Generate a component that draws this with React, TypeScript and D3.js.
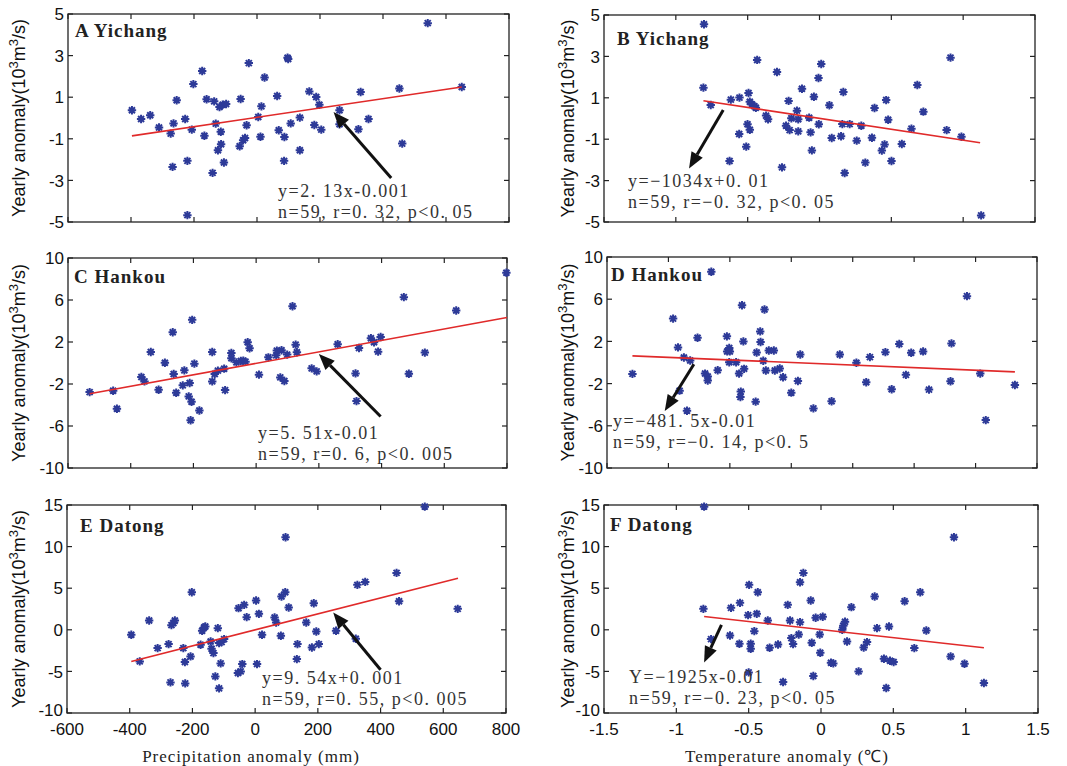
import React from "react";
import * as d3 from "d3";

// ---------- DATA ----------
const precipTicks = [-600, -400, -200, 0, 200, 400, 600, 800];
const tempTicks = [-1.5, -1, -0.5, 0, 0.5, 1, 1.5];
const tempTicksD = [-1.5, -1, -0.5, 0, 0.5, 1, 1.5, 2];
const yTicksYichang = [-5, -3, -1, 1, 3, 5];
const yTicksHankou = [-10, -6, -2, 2, 6, 10];
const yTicksDatong = [-10, -5, 0, 5, 10, 15];

// A: Yichang vs precipitation anomaly (mm, 10^3 m3/s)
const pointsA: [number, number][] = [
  [-397, 0.37], [-368, -0.05], [-339, 0.13], [-311, -0.46], [-274, -0.75], [-268, -2.35], [-265, -0.26],
  [-255, 0.85], [-228, -0.05], [-221, -2.06], [-221, -4.67], [-207, -0.56], [-202, 1.63], [-174, 2.26],
  [-167, -0.85], [-160, 0.9], [-141, -2.64], [-136, 0.8], [-131, -0.27], [-124, -1.55], [-119, 0.53],
  [-115, -0.66], [-114, -1.26], [-109, 0.64], [-105, -2.14], [-98, 0.67], [-55, -1.36], [-52, 0.91],
  [-44, -1.07], [-38, -0.96], [-33, -0.35], [-26, 2.64], [4, 0.05], [11, -0.9], [14, 0.56], [24, 1.95],
  [64, 1.06], [69, -0.59], [86, -2.06], [87, -0.91], [97, 2.9], [99, 2.84], [107, -0.26], [136, 0.02],
  [136, -1.55], [166, 1.28], [182, -0.34], [188, 1.01], [198, 0.64], [204, -0.56], [262, 0.37],
  [262, -0.3], [322, -0.54], [329, 1.25], [354, -0.05], [452, 1.42], [461, -1.23], [542, 4.56], [650, 1.49],
];
// B: Yichang vs temperature anomaly (°C)
const pointsB: [number, number][] = [
  [-0.804, 4.55], [-0.808, 1.49], [-0.757, 0.65], [-0.626, -2.05], [-0.617, 0.91], [-0.559, -0.75],
  [-0.557, 1.01], [-0.51, -1.36], [-0.501, -0.28], [-0.494, 1.23], [-0.485, -0.54], [-0.485, 0.81],
  [-0.469, 0.68], [-0.453, 0.59], [-0.443, 0.52], [-0.434, 2.83], [-0.372, 0.14], [-0.358, -0.04],
  [-0.296, 2.25], [-0.261, -2.36], [-0.233, -0.35], [-0.215, 0.85], [-0.208, -0.56], [-0.196, 0.01],
  [-0.157, 0.38], [-0.148, -0.04], [-0.148, -0.62], [-0.122, 1.44], [-0.072, 0.04], [-0.062, -0.67],
  [-0.053, -1.54], [-0.039, 1.05], [-0.007, 1.96], [-0.005, -0.28], [0.012, 2.63], [0.069, 0.64],
  [0.085, -0.94], [0.15, -0.86], [0.159, -0.27], [0.166, 1.28], [0.175, -2.63], [0.21, -0.27],
  [0.259, -1.07], [0.291, -0.35], [0.319, -2.13], [0.365, -0.93], [0.383, 0.51], [0.434, -1.55],
  [0.453, -1.25], [0.464, 0.89], [0.478, -0.06], [0.501, -2.05], [0.573, -1.23], [0.64, -0.49],
  [0.681, 1.62], [0.723, 0.33], [0.885, -0.56], [0.912, 2.94], [0.988, -0.88], [1.125, -4.68],
];
// C: Hankou vs precipitation anomaly
const pointsC: [number, number][] = [
  [-531, -2.77], [-456, -2.64], [-444, -4.36], [-366, -1.34], [-356, -1.75], [-336, 1.05], [-311, -2.55],
  [-291, 0.03], [-266, 2.93], [-263, -1.05], [-255, -2.83], [-234, -2.13], [-229, -0.7], [-215, -3.18],
  [-212, -1.91], [-209, -5.45], [-206, -3.69], [-204, 4.11], [-197, -0.06], [-181, -4.52], [-140, 1.05],
  [-140, -1.75], [-132, -1.05], [-122, -0.73], [-102, -0.54], [-99, -2.58], [-79, 0.96], [-79, 0.45],
  [-63, 0.06], [-49, 0.19], [-41, 0.22], [-34, 0.13], [-27, 1.97], [-21, 1.4], [9, -1.11], [39, 0.54],
  [64, 0.73], [66, 1.18], [77, -1.37], [81, 1.21], [90, -1.72], [99, 0.8], [116, 5.41], [126, 1.75],
  [130, 1.02], [177, -0.51], [193, -0.8], [260, 1.78], [317, -0.99], [320, -3.63], [328, 1.43],
  [366, 2.36], [376, 1.97], [389, 1.08], [397, 2.48], [471, 6.27], [487, -1.02], [538, 0.99], [638, 5.0],
  [798, 8.6],
];
// D: Hankou vs temperature anomaly
const pointsD: [number, number][] = [
  [-1.293, -1.08], [-0.962, 4.16], [-0.922, 1.43], [-0.909, -2.67], [-0.874, 0.48], [-0.849, -4.57],
  [-0.823, 0.19], [-0.763, 2.35], [-0.702, -1.05], [-0.68, -1.33], [-0.68, -1.71], [-0.651, 8.6],
  [-0.599, -0.73], [-0.524, 2.48], [-0.522, 1.05], [-0.505, 1.37], [-0.5, 1.05], [-0.505, 0.03],
  [-0.449, 0.03], [-0.425, -1.05], [-0.411, -2.76], [-0.414, -3.27], [-0.401, 5.43], [-0.39, 2.0],
  [-0.384, -0.6], [-0.29, -3.71], [-0.282, 0.95], [-0.253, 2.95], [-0.25, 1.94], [-0.228, 0.16],
  [-0.218, 5.02], [-0.207, -0.76], [-0.183, 1.14], [-0.142, 1.14], [-0.134, -0.76], [-0.094, -0.57],
  [-0.067, -1.4], [0, -2.86], [0.054, -1.75], [0.073, 0.76], [0.18, -4.35], [0.328, -3.68], [0.395, 0.76],
  [0.53, -0.03], [0.61, -1.87], [0.64, 0.51], [0.766, 0.98], [0.817, -2.54], [0.879, 1.75], [0.933, -1.17],
  [0.976, 0.92], [1.073, 1.05], [1.121, -2.57], [1.296, -1.78], [1.304, 1.81], [1.43, 6.29], [1.538, -1.05],
  [1.583, -5.46], [1.82, -2.13],
];
// E: Datong vs precipitation anomaly
const pointsE: [number, number][] = [
  [-395, -0.6], [-368, -3.8], [-338, 1.12], [-311, -2.2], [-276, -1.72], [-270, -6.32], [-267, 0.56],
  [-261, 0.8], [-256, 1.12], [-229, -2.2], [-224, -3.88], [-223, -6.44], [-206, -3.2], [-202, 4.52],
  [-174, -1.8], [-169, -0.12], [-163, 0.28], [-159, 0.4], [-142, -1.4], [-139, -2.28], [-133, -2.8],
  [-127, -5.6], [-119, 0.2], [-115, -7.04], [-115, -1.6], [-110, -4.04], [-107, -1.48], [-99, -1.12],
  [-55, -5.2], [-53, 2.6], [-46, -5.0], [-41, -4.12], [-35, 3.0], [-27, 1.52], [3, 3.52], [6, -4.12],
  [12, 1.92], [22, -0.6], [62, 1.48], [67, 0.88], [82, -0.72], [84, 4.0], [96, 4.52], [97, 11.12],
  [107, 2.68], [135, -1.72], [133, -3.52], [163, 0.88], [181, -2.12], [187, 3.2], [195, -0.2], [203, -1.72],
  [258, -0.12], [321, -1.08], [326, 5.4], [351, 5.76], [451, 6.84], [459, 3.44], [541, 14.8], [646, 2.52],
];
// F: Datong vs temperature anomaly
const pointsF: [number, number][] = [
  [-0.808, 14.8], [-0.813, 2.52], [-0.76, -1.12], [-0.629, -0.68], [-0.622, 2.64], [-0.564, -1.68],
  [-0.56, 3.24], [-0.504, 1.76], [-0.5, -5.12], [-0.497, 5.4], [-0.486, -1.68], [-0.486, -2.28],
  [-0.461, -0.16], [-0.444, 1.92], [-0.437, 4.52], [-0.368, 1.12], [-0.355, -2.16], [-0.297, -1.76],
  [-0.262, -6.28], [-0.23, 3.0], [-0.214, 1.12], [-0.205, -1.0], [-0.193, -1.72], [-0.154, -0.56],
  [-0.145, 5.72], [-0.145, 0.92], [-0.122, 6.84], [-0.071, 3.52], [-0.064, -1.56], [-0.053, -5.56],
  [-0.037, 1.44], [-0.009, -0.56], [-0.005, -2.76], [0.012, 1.56], [0.069, -3.96], [0.085, -4.04],
  [0.147, 0], [0.154, 0.48], [0.166, 0.96], [0.18, -1.4], [0.21, 2.72], [0.26, -5.0], [0.295, -2.12],
  [0.318, -1.48], [0.371, 4.0], [0.387, 0.2], [0.435, -3.48], [0.451, -7.0], [0.47, 0.4], [0.477, -3.72],
  [0.502, -3.88], [0.578, 3.44], [0.645, -2.2], [0.686, 4.52], [0.728, -0.08], [0.896, -3.2], [0.919, 11.12],
  [0.992, -4.08], [1.126, -6.4],
];

// regression line end points [x, y]
const fitA: [number, number][] = [[-397, -0.86], [650, 1.49]];
const fitB: [number, number][] = [[-0.808, 0.86], [1.118, -1.17]];
const fitC: [number, number][] = [[-531, -2.93], [800, 4.34]];
const fitD: [number, number][] = [[-1.293, 0.63], [1.82, -0.89]];
const fitE: [number, number][] = [[-395, -3.8], [647, 6.2]];
const fitF: [number, number][] = [[-0.808, 1.6], [1.126, -2.16]];

// annotation arrows [tail, head] in data units
const arrowA: [number, number][] = [[426, -2.88], [243, 0.29]];
const arrowB: [number, number][] = [[-0.67, 0.41], [-0.908, -2.41]];
const arrowC: [number, number][] = [[397, -5.1], [200, 0.86]];
const arrowD: [number, number][] = [[-0.793, -0.16], [-1.03, -4.6]];
const arrowE: [number, number][] = [[400, -4.8], [249, 2.08]];
const arrowF: [number, number][] = [[-0.688, 0.6], [-0.808, -3.92]];

const titles = ["A Yichang", "B Yichang", "C Hankou", "D Hankou", "E Datong", "F Datong"];
const eqLines = [
  ["y=2. 13x-0.001", "n=59, r=0. 32, p<0. 05"],
  ["y=\u22121034x+0. 01", "n=59, r=\u22120. 32, p<0. 05"],
  ["y=5. 51x-0.01", "n=59, r=0. 6, p<0. 005"],
  ["y=\u2212481. 5x-0.01", "n=59, r=\u22120. 14, p<0. 5"],
  ["y=9. 54x+0. 001", "n=59, r=0. 55, p<0. 005"],
  ["Y=\u22121925x-0.01", "n=59, r=\u22120. 23, p<0. 05"],
];

// ---------- LAYOUT ----------
type Panel = {
  pts: [number, number][];
  fit: [number, number][];
  arrow: [number, number][];
  xDomain: [number, number];
  xTicks: number[];
  yDomain: [number, number];
  yTicks: number[];
  box: { l: number; t: number; w: number; h: number };
  title: { x: number; y: number };
  eq: { x: number; y: number };
  showX: boolean;
};

const panels: Panel[] = [
  { pts: pointsA, fit: fitA, arrow: arrowA, xDomain: [-600, 800], xTicks: precipTicks, yDomain: [-5, 5], yTicks: yTicksYichang,
    box: { l: 68, t: 14, w: 441, h: 208 }, title: { x: 75, y: 37 }, eq: { x: 278, y: 197 }, showX: false },
  { pts: pointsB, fit: fitB, arrow: arrowB, xDomain: [-1.5, 1.5], xTicks: tempTicks, yDomain: [-5, 5], yTicks: yTicksYichang,
    box: { l: 604, t: 15, w: 431, h: 207 }, title: { x: 617, y: 45 }, eq: { x: 628, y: 187 }, showX: false },
  { pts: pointsC, fit: fitC, arrow: arrowC, xDomain: [-600, 800], xTicks: precipTicks, yDomain: [-10, 10], yTicks: yTicksHankou,
    box: { l: 68, t: 258, w: 439, h: 210 }, title: { x: 74, y: 283 }, eq: { x: 258, y: 439 }, showX: false },
  { pts: pointsD, fit: fitD, arrow: arrowD, xDomain: [-1.5, 2], xTicks: tempTicksD, yDomain: [-10, 10], yTicks: yTicksHankou,
    box: { l: 607, t: 257, w: 430, h: 211 }, title: { x: 611, y: 281 }, eq: { x: 613, y: 427 }, showX: false },
  { pts: pointsE, fit: fitE, arrow: arrowE, xDomain: [-600, 800], xTicks: precipTicks, yDomain: [-10, 15], yTicks: yTicksDatong,
    box: { l: 67, t: 505, w: 439, h: 208 }, title: { x: 80, y: 532 }, eq: { x: 262, y: 684 }, showX: true },
  { pts: pointsF, fit: fitF, arrow: arrowF, xDomain: [-1.5, 1.5], xTicks: tempTicks, yDomain: [-10, 15], yTicks: yTicksDatong,
    box: { l: 604, t: 505, w: 434, h: 208 }, title: { x: 610, y: 531 }, eq: { x: 629, y: 683 }, showX: true },
];

const MARK = "#2d3a98";
const SERIF = "'Liberation Serif', 'Times New Roman', serif";
const SANS = "'Liberation Sans', Arial, sans-serif";

function Star({ x, y }: { x: number; y: number }) {
  const r = 4.2, d = 3;
  return (
    <path
      d={`M${x - r},${y}L${x + r},${y}M${x},${y - r}L${x},${y + r}M${x - d},${y - d}L${x + d},${y + d}M${x - d},${y + d}L${x + d},${y - d}`}
      stroke={MARK}
      strokeWidth={2}
      fill="none"
    />
  );
}

function PanelView({ p, i }: { p: Panel; i: number }) {
  const { l, t, w, h } = p.box;
  const x = d3.scaleLinear().domain(p.xDomain).range([l, l + w]);
  const y = d3.scaleLinear().domain(p.yDomain).range([t + h, t]);
  const line = d3.line<[number, number]>().x((d) => x(d[0])).y((d) => y(d[1]));
  const tk = 5;
  const [tail, head] = p.arrow;
  const x1 = x(tail[0]), y1 = y(tail[1]), x2 = x(head[0]), y2 = y(head[1]);
  const ang = Math.atan2(y2 - y1, x2 - x1);
  const hl = 16, hw = 6.5;
  const bx = x2 - hl * Math.cos(ang), by = y2 - hl * Math.sin(ang);
  const px = -Math.sin(ang) * hw, py = Math.cos(ang) * hw;
  const yLabelX = l < 300 ? 25 : 574;
  const cy = t + h / 2;
  return (
    <g>
      <rect x={l} y={t} width={w} height={h} fill="none" stroke="#222" strokeWidth={1.3} />
      {p.xTicks.map((v, k) => (
        <g key={"xt" + k}>
          <line x1={x(v)} x2={x(v)} y1={t + h} y2={t + h - tk} stroke="#222" strokeWidth={1.2} />
          <line x1={x(v)} x2={x(v)} y1={t} y2={t + tk} stroke="#222" strokeWidth={1.2} />
          {p.showX && (
            <text x={x(v)} y={t + h + 22} textAnchor="middle" fontFamily={SANS} fontSize={17} fill="#111">
              {String(v)}
            </text>
          )}
        </g>
      ))}
      {p.yTicks.map((v, k) => (
        <g key={"yt" + k}>
          <line x1={l} x2={l + tk} y1={y(v)} y2={y(v)} stroke="#222" strokeWidth={1.2} />
          <line x1={l + w} x2={l + w - tk} y1={y(v)} y2={y(v)} stroke="#222" strokeWidth={1.2} />
          <text
            x={l - 4}
            y={y(v) - (p.showX && k === 0 ? 3 : 0)}
            dy="0.36em"
            textAnchor="end"
            fontFamily={SANS}
            fontSize={17}
            fill="#111"
          >
            {String(v)}
          </text>
        </g>
      ))}
      <text
        transform={`translate(${yLabelX},${cy}) rotate(-90)`}
        textAnchor="middle"
        fontFamily={SANS}
        fontSize={18}
        fill="#111"
      >
        Yearly anomaly(10
        <tspan dy={-7} fontSize={13}>3</tspan>
        <tspan dy={7}>m</tspan>
        <tspan dy={-7} fontSize={13}>3</tspan>
        <tspan dy={7}>/s)</tspan>
      </text>
      {p.pts.map((d, k) => (
        <Star key={k} x={x(d[0])} y={y(d[1])} />
      ))}
      <path d={line(p.fit) || ""} stroke="#e02a2a" strokeWidth={1.6} fill="none" />
      <line x1={x1} y1={y1} x2={bx} y2={by} stroke="#111" strokeWidth={3} />
      <path d={`M${x2},${y2}L${bx + px},${by + py}L${bx - px},${by - py}Z`} fill="#111" />
      <text x={p.title.x} y={p.title.y} fontFamily={SERIF} fontWeight="bold" fontSize={19} letterSpacing={1} fill="#222">
        {titles[i]}
      </text>
      <text x={p.eq.x} y={p.eq.y} fontFamily={SERIF} fontSize={18} letterSpacing={1.5} fill="#333">
        {eqLines[i][0]}
      </text>
      <text x={p.eq.x} y={p.eq.y + 21} fontFamily={SERIF} fontSize={18} letterSpacing={1.5} fill="#333">
        {eqLines[i][1]}
      </text>
    </g>
  );
}

export default function App() {
  return (
    <svg
      width={1067}
      height={766}
      style={{ position: "absolute", left: 0, top: 0, background: "#fff" }}
    >
      <rect width={1067} height={766} fill="#fff" />
      {panels.map((p, i) => (
        <PanelView key={i} p={p} i={i} />
      ))}
      <text x={251} y={762} textAnchor="middle" fontFamily={SERIF} fontSize={17} letterSpacing={1} fill="#222">
        Precipitation anomaly (mm)
      </text>
      <text x={787} y={762} textAnchor="middle" fontFamily={SERIF} fontSize={17} letterSpacing={1} fill="#222">
        Temperature anomaly (℃)
      </text>
    </svg>
  );
}
